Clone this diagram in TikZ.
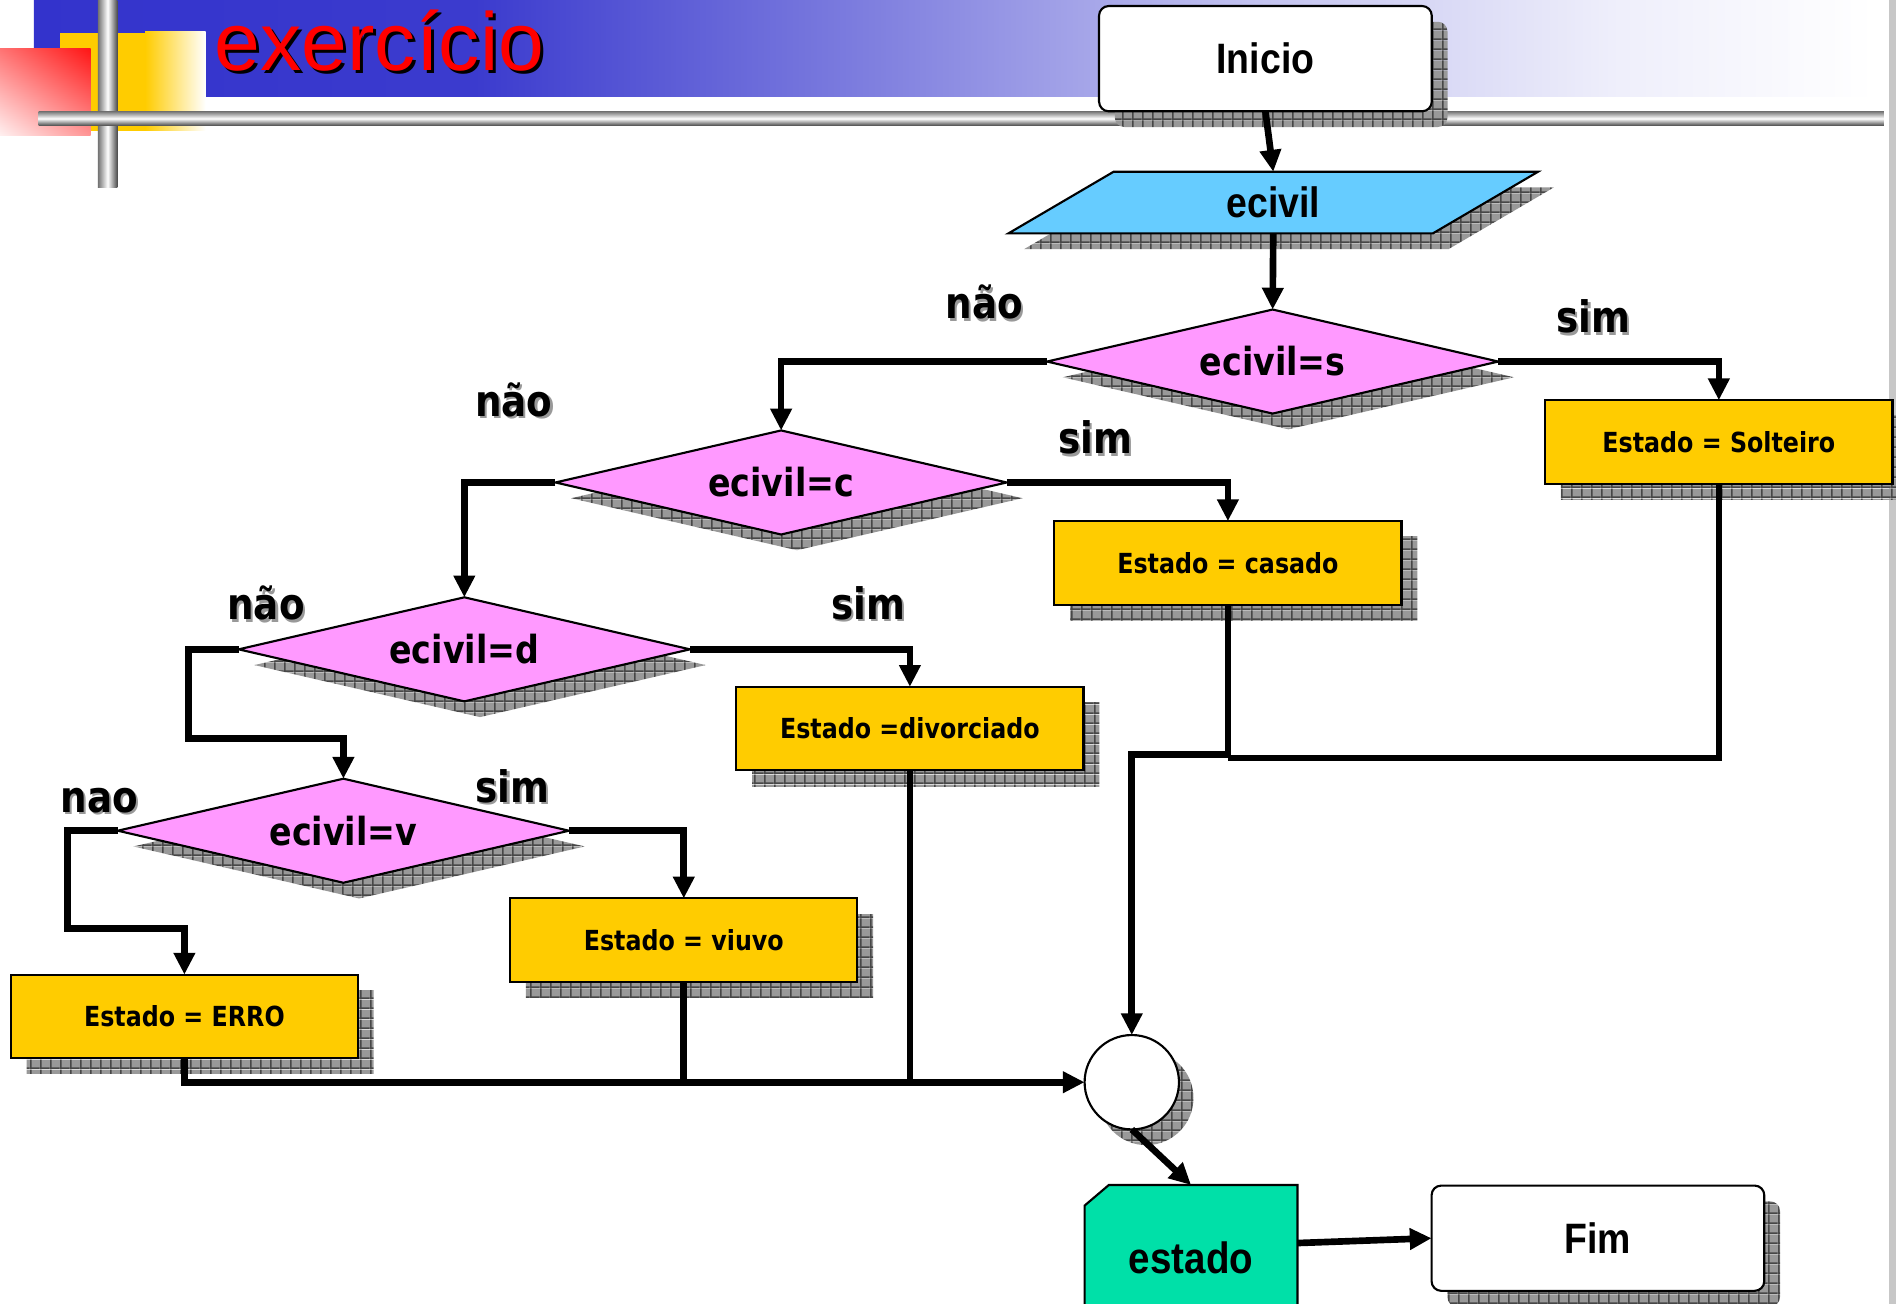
\documentclass[tikz,border=0pt]{standalone}
\usepackage{fontspec}
\setmainfont{Liberation Sans}
\newfontfamily\nrwfont{Liberation Sans}[FakeStretch=0.88]
\newfontfamily\lblfont{DejaVu Sans}[FakeStretch=0.86]
\usetikzlibrary{shapes.geometric,arrows.meta,shadows,shadings,patterns.meta,calc}

\definecolor{bannerblue}{HTML}{3333CC}
\definecolor{decisionpink}{HTML}{FF99FF}
\definecolor{stepyellow}{HTML}{FFCC00}
\definecolor{inputblue}{HTML}{66CCFF}
\definecolor{outputgreen}{HTML}{00E0A8}
\definecolor{titlered}{HTML}{FF0000}

% banner: solid blue on the left, fading to white on the right
\pgfdeclarehorizontalshading{bannershade}{100bp}{%
  color(0bp)=(bannerblue); color(25bp)=(bannerblue);
  color(37bp)=(bannerblue!96!white); color(48bp)=(bannerblue!62!white);
  color(58bp)=(bannerblue!30!white); color(68bp)=(bannerblue!8!white);
  color(75bp)=(white); color(100bp)=(white)}

% hatched grey used for the drop shadows
\tikzdeclarepattern{
  name=shadowgrid,
  type=colored,
  bottom left={(0pt,0pt)},
  top right={(2.4pt,2.4pt)},
  tile size={(2.4pt,2.4pt)},
  code={
    \fill[black!40] (0pt,0pt) rectangle (2.4pt,2.4pt);
    \fill[black!72] (0pt,0pt) rectangle (2.4pt,0.4pt);
    \fill[black!72] (0pt,0pt) rectangle (0.4pt,2.4pt);
  }
}

\tikzset{
  shadowed/.style={general shadow={shadow xshift=0.13cm, shadow yshift=-0.13cm, pattern=shadowgrid}},
  conn/.style={line width=0.055cm, -{Triangle[length=0.18cm,width=0.17cm]}},
  plainline/.style={line width=0.055cm},
  decision/.style={diamond, draw=black, line width=0.5pt, fill=decisionpink,
    minimum width=3.73cm, minimum height=0.86cm, shape aspect=4.34,
    inner sep=0pt, outer sep=0pt, shadowed,
    font=\lblfont\bfseries\fontsize{9.1}{11}\selectfont},
  stepbox/.style={rectangle, draw=black, line width=0.5pt, fill=stepyellow,
    minimum width=2.87cm, minimum height=0.69cm, inner sep=0pt, outer sep=0pt,
    shadowed, font=\lblfont\bfseries\fontsize{6.5}{8}\selectfont},
  terminal/.style={rectangle, rounded corners=0.08cm, draw=black, line width=0.5pt,
    fill=white, minimum width=2.75cm, minimum height=0.87cm, inner sep=0pt,
    outer sep=0pt, shadowed, font=\nrwfont\bfseries\fontsize{10}{12}\selectfont},
  labeltxt/.style={inner sep=0pt, font=\lblfont\bfseries\fontsize{10.2}{12}\selectfont},
}

% branch label with a soft grey drop shadow
\newcommand\shadowlabel[3]{%
  \node[labeltxt, text=black!40, xshift=0.018cm, yshift=-0.018cm] at (#2) {#3};
  \node[labeltxt] (#1) at (#2) {#3};}

\begin{document}
\begin{tikzpicture}[x=0.01cm, y=-0.01cm]
\clip (0,0) rectangle (1568,1078);
\fill[white] (0,0) rectangle (1568,1078);
\fill[black!22] (1562,0) rectangle (1568,1078);

% ---- slide header ----
\shade[shading=bannershade] (28,0) rectangle (1550,80);
\fill[stepyellow] (50,27) rectangle (120,108);
\shade[left color=stepyellow, right color=white] (120,26) rectangle (170,108);
\shade[upper right=red!92, upper left=red!55!white, lower right=red!42!white,
       lower left=red!6!white] (0,40) rectangle (75,112);
% metallic rods
\shade[left color=black!55, right color=black!70, middle color=white] (81,0) rectangle (97,155);
\shade[top color=black!55, bottom color=black!72, middle color=white] (32,92) rectangle (1558,104);
\node[anchor=base west, inner sep=0pt, text=black, font=\fontsize{19.35}{22}\selectfont]
  (titleshadow) at (179.5,60.5) {exercício};
\node[anchor=base west, inner sep=0pt, text=titlered, font=\fontsize{19.35}{22}\selectfont]
  (title) at (177,58) {exercício};

% ---- flowchart ----
\node[terminal] (inicio) at (1046.5,48.5) {Inicio};

% input parallelogram
\path[pattern=shadowgrid] (934,155) -- (1285,155) -- (1198,206) -- (847,206) -- cycle;
\draw[fill=inputblue, line width=0.5pt] (921,142) -- (1272,142) -- (1185,193) -- (834,193) -- cycle;
\node[minimum width=4.38cm, minimum height=0.51cm, inner sep=0pt, outer sep=0pt,
      font=\nrwfont\bfseries\fontsize{10}{12}\selectfont] (ecivil) at (1053,167.5) {ecivil};

\node[decision] (ds) at (1052.5,299) {ecivil=s};
\node[decision] (dc) at (646,399) {ecivil=c};
\node[decision] (dd) at (384,537) {ecivil=d};
\node[decision] (dv) at (284,687) {ecivil=v};

\node[stepbox] (solt)  at (1421.5,365.5) {Estado = Solteiro};
\node[stepbox] (cas)   at (1015.5,465.5) {Estado = casado};
\node[stepbox] (div)   at (752.5,602.5) {Estado =divorciado};
\node[stepbox] (viuvo) at (565.5,777.5) {Estado = viuvo};
\node[stepbox] (erro)  at (152.5,840.5) {Estado = ERRO};

\node[circle, draw=black, line width=0.5pt, fill=white, minimum size=0.78cm,
      inner sep=0pt, outer sep=0pt,
      general shadow={shadow xshift=0.12cm, shadow yshift=-0.13cm, pattern=shadowgrid}]
  (circ) at (936,895) {};

% output card with a cut corner
\draw[fill=outputgreen, line width=0.5pt] (917,980) -- (1073,980) -- (1073,1100)
  -- (897,1100) -- (897,997) -- cycle;
\node[minimum width=1.76cm, minimum height=1.2cm, inner sep=0pt, outer sep=0pt,
      font=\nrwfont\bfseries\fontsize{10.3}{12}\selectfont] (estado) at (985,1040) {estado};

\node[terminal] (fim) at (1321.5,1024) {Fim};

% branch labels
\shadowlabel{l-ds-no}{814,250}{não}
\shadowlabel{l-ds-yes}{1318,262}{sim}
\shadowlabel{l-dc-no}{425,331}{não}
\shadowlabel{l-dc-yes}{906,362}{sim}
\shadowlabel{l-dd-no}{220,499}{não}
\shadowlabel{l-dd-yes}{718,499}{sim}
\shadowlabel{l-dv-no}{82,662}{nao}
\shadowlabel{l-dv-yes}{424,650}{sim}

% connectors
\draw[conn] (inicio.south) -- (ecivil.north);
\draw[conn] (ecivil.south) -- (ds.north);
\draw[conn] (ds.west) -| (dc.north);
\draw[conn] (ds.east) -| (solt.north);
\draw[conn] (dc.west) -| (dd.north);
\draw[conn] (dc.east) -| (cas.north);
\coordinate (dd-turn) at (156,611);
\draw[conn] (dd.west) -| (dd-turn) -| (dv.north);
\draw[conn] (dd.east) -| (div.north);
\coordinate (dv-turn) at (56,768);
\draw[conn] (dv.west) -| (dv-turn) -| (erro.north);
\draw[conn] (dv.east) -| (viuvo.north);

\draw[conn] (erro.south) |- (circ.west);
\draw[plainline] (viuvo.south) -- (viuvo.south |- circ.west);
\draw[plainline] (div.south) -- (div.south |- circ.west);
\coordinate (solt-join) at (1015.5,627);
\coordinate (merge) at (936,624);
\draw[plainline] (solt.south) |- (solt-join);
\draw[conn] (cas.south) |- (merge) -- (circ.north);
\draw[conn] (circ.south) -- (estado.north);
\draw[conn] ([yshift=0.12cm]estado.east) -- (fim.west);
\end{tikzpicture}
\end{document}
